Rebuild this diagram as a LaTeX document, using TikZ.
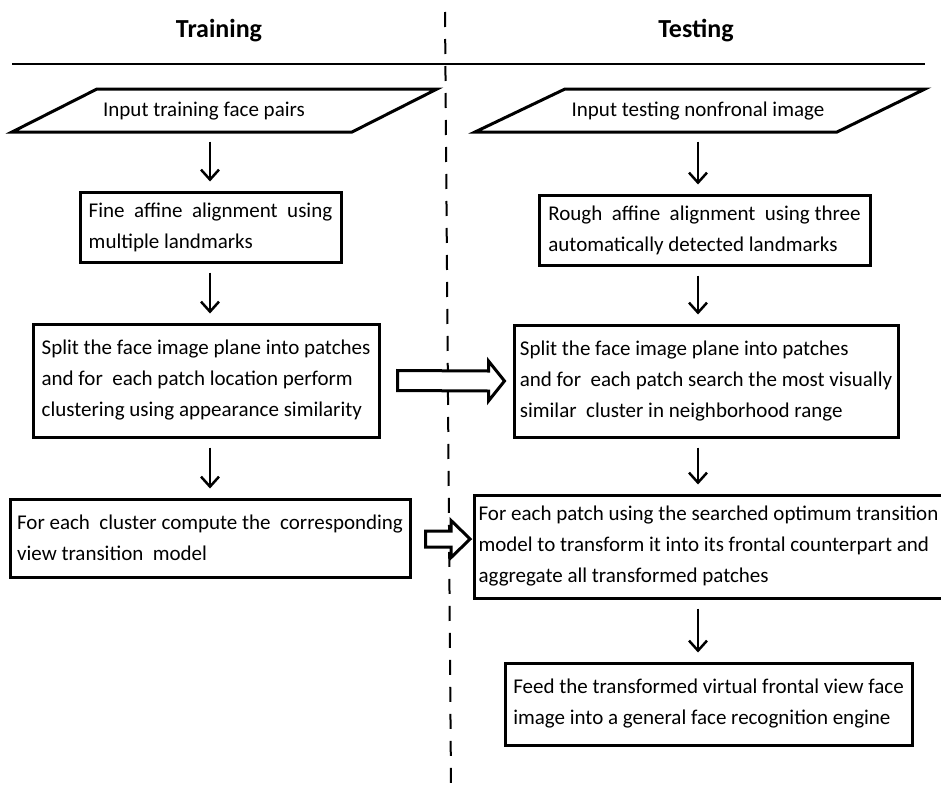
\documentclass[tikz,border=0pt]{standalone}
\usepackage{fontspec}
\setmainfont{Carlito}
\usetikzlibrary{arrows.meta,calc}
\begin{document}
\begin{tikzpicture}[x=1pt,y=-1pt,
  body/.style={font=\fontsize{21}{31}\selectfont},
  box/.style={body, draw, line width=3pt, rectangle, align=left, inner xsep=4pt, inner ysep=0pt,
    execute at begin node={\rule{0pt}{28pt}}},
  para/.style={line width=3pt, line join=miter},
  title/.style={font=\fontsize{26}{30}\selectfont\bfseries},
  arr/.style={line width=2.5pt, -{Straight Barb[length=10pt,width=18pt]}, shorten <=9pt, shorten >=9pt},
  blk/.style={line width=3pt, line join=miter, fill=white},
  sep/.style={line width=2pt, dash pattern=on 15pt off 12pt}
]
\useasboundingbox (0,0) rectangle (941,787);
% separators
\coordinate (st) at (445,12);
\coordinate (sb) at (451,785);
\coordinate (hl) at (12,64);
\coordinate (hr) at (925,64);
\draw[sep] (st) -- (sb);
\draw[line width=2.5pt] (hl) -- (hr);
% titles
\node[title] (ttrain) at (219,31) {Training};
\node[title] (ttest) at (696,31) {Testing};
% inputs
\draw[para] (97,89) -- (437,89) -- (352,132) -- (12,132) -- cycle;
\node[body, minimum height=43pt, inner sep=0pt] (in1) at (204,111) {Input training face pairs};
\draw[para] (565,89) -- (925,89) -- (837,132) -- (475,132) -- cycle;
\node[body, minimum height=43pt, inner sep=0pt] (in2) at (698,111) {Input testing nonfronal image};
% training boxes
\node[box, minimum width=261pt, minimum height=70pt] (L2) at (210.5,227)
  {Fine \ affine \ alignment \ using\\multiple landmarks};
\node[box, minimum width=346pt, minimum height=113pt] (L3) at (206,380.5)
  {Split the face image plane into patches\\and for \ each patch location perform\\clustering using appearance similarity};
\node[box, minimum width=400pt, minimum height=78pt] (L4) at (210,538)
  {For each \ cluster compute the \ corresponding\\view transition \ model};
% testing boxes
\node[box, minimum width=331pt, minimum height=70pt] (R2) at (704.5,230)
  {Rough \ affine \ alignment \ using three\\automatically detected landmarks};
\node[box, minimum width=384pt, minimum height=112pt] (R3) at (706,381)
  {Split the face image plane into patches\\and for \ each patch search the most visually\\similar \ cluster in neighborhood range};
\node[box, minimum width=465pt, minimum height=103pt] (R4) at (708.5,546.5)
  {For each patch using the searched optimum transition\\model to transform it into its frontal counterpart and\\aggregate all transformed patches};
\node[box, minimum width=407pt, minimum height=82pt] (R5) at (708.5,704)
  {Feed the transformed virtual frontal view face\\image into a general face recognition engine};
% vertical arrows
\coordinate (xL) at (210,0);
\coordinate (xR) at (698,0);
\draw[arr] (in1.south -| xL) -- (L2.north -| xL);
\draw[arr] (L2.south -| xL) -- (L3.north -| xL);
\draw[arr] (L3.south -| xL) -- (L4.north -| xL);
\draw[arr] (in2.south -| xR) -- (R2.north -| xR);
\draw[arr] (R2.south -| xR) -- (R3.north -| xR);
\draw[arr] (R3.south -| xR) -- (R4.north -| xR);
\draw[arr] (R4.south -| xR) -- (R5.north -| xR);
% block arrows
\coordinate (a1s) at ($(L3.east)+(17,0)$);
\coordinate (a1e) at ($(R3.west)+(-8,0)$);
\draw[blk] ($(a1s)+(0,-10)$) -- ($(a1e)+(-16,-10)$) -- ($(a1e)+(-16,-20)$) -- (a1e)
  -- ($(a1e)+(-16,20)$) -- ($(a1e)+(-16,10)$) -- ($(a1s)+(0,10)$) -- cycle;
\coordinate (a2s) at ($(L4.east)+(14,1)$);
\coordinate (a2e) at ($(R4.west |- a2s)+(-3,0)$);
\draw[blk] ($(a2s)+(0,-8)$) -- ($(a2e)+(-19,-8)$) -- ($(a2e)+(-19,-18.5)$) -- (a2e)
  -- ($(a2e)+(-19,18.5)$) -- ($(a2e)+(-19,8)$) -- ($(a2s)+(0,8)$) -- cycle;
\end{tikzpicture}
\end{document}
